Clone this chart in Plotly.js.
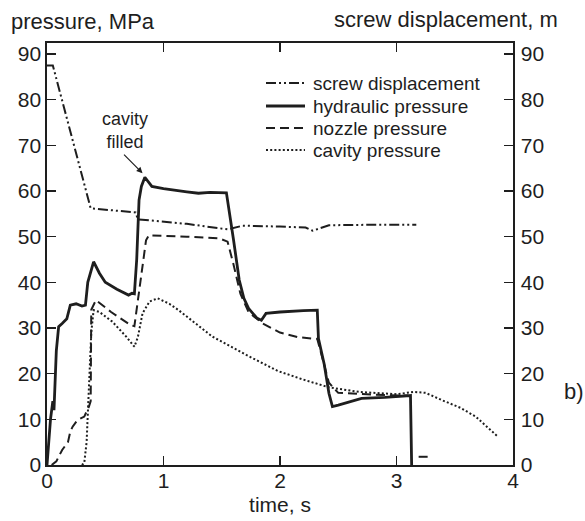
<!DOCTYPE html>
<html>
<head>
<meta charset="utf-8">
<script src="https://cdn.plot.ly/plotly-3.0.1.min.js"></script>
<style>html,body{margin:0;padding:0;background:#fff}#chart{width:585px;height:521px}</style>
</head>
<body>
<div id="chart"></div>
<script>
// ---- data ----
var seriesNames = ["screw displacement", "hydraulic pressure", "nozzle pressure", "cavity pressure"];

var screwT = [0.0, 0.05, 0.375, 0.76, 0.78, 0.88, 1.2, 1.55, 1.68, 2.0, 2.22, 2.28, 2.42, 2.8, 3.17];
var screwV = [87.5, 87.5, 56.2, 55.3, 53.8, 53.6, 52.8, 51.6, 52.4, 52.2, 52.0, 51.3, 52.5, 52.6, 52.6];

var hydT = [0.0, 0.02, 0.03, 0.05, 0.06, 0.08, 0.1, 0.13, 0.17, 0.2, 0.25, 0.3, 0.33, 0.35, 0.4, 0.45, 0.5, 0.6, 0.7, 0.73, 0.75, 0.77, 0.79, 0.81, 0.84, 0.9, 1.0, 1.2, 1.3, 1.4, 1.54, 1.6, 1.65, 1.69, 1.73, 1.8, 1.84, 1.88, 2.0, 2.2, 2.32, 2.33, 2.38, 2.42, 2.45, 2.5, 2.6, 2.7, 2.9, 3.12, 3.13];
var hydV = [0.0, 6, 10, 14, 12, 25, 30.3, 31, 32, 35, 35.3, 34.8, 35, 40, 44.5, 42, 40, 38.5, 37.2, 37.6, 37.5, 45, 58, 61, 63, 61, 60.5, 59.8, 59.5, 59.7, 59.6, 49.5, 40.5, 36.5, 34.3, 32.2, 31.7, 33.2, 33.5, 33.8, 33.9, 27.7, 22, 15.7, 12.8, 13.1, 13.8, 14.6, 14.8, 15.2, 0];

var nozT = [0.04, 0.08, 0.13, 0.18, 0.2, 0.22, 0.26, 0.32, 0.36, 0.375, 0.38, 0.42, 0.55, 0.72, 0.75, 0.8, 0.85, 0.875, 1.0, 1.2, 1.48, 1.55, 1.6, 1.66, 1.73, 1.85, 2.0, 2.15, 2.32, 2.36, 2.42, 2.5, 2.7, 2.9, 3.1, null, 3.19, 3.28];
var nozV = [0, 0.8, 3.3, 5, 7.3, 8.4, 9.8, 10.6, 12.8, 14, 34, 36.1, 33.5, 30.6, 30.4, 40, 49.2, 50.3, 50.2, 50, 49.6, 48.9, 44, 37.5, 33.5, 31, 29, 28, 27.6, 24, 18, 15.8, 15.5, 15.3, 15.2, null, 1.8, 1.8];

var cavT = [0.30, 0.32, 0.34, 0.36, 0.38, 0.40, 0.45, 0.56, 0.68, 0.75, 0.78, 0.82, 0.88, 0.95, 1.05, 1.13, 1.42, 1.71, 1.98, 2.2, 2.42, 2.68, 3.0, 3.15, 3.25, 3.39, 3.55, 3.68, 3.87];
var cavV = [0, 0.5, 5, 18, 29, 33.9, 33.5, 31.4, 28.1, 25.9, 28, 33.2, 35.8, 36.5, 35.3, 33.9, 28.1, 24.1, 20.6, 18.7, 17, 16, 15.5, 16, 15.8, 14.2, 12.5, 10.6, 6.2];

var xTicks = [0, 1, 2, 3, 4];
var yTicks = [0, 10, 20, 30, 40, 50, 60, 70, 80, 90];

// ---- layout helpers ----
var W = 585, H = 521, L = 47, R = 72, T = 43, B = 56;
var pw = W - L - R, ph = H - T - B;
function px(x) { return (x - L) / pw; }
function py(y) { return (H - B - y) / ph; }

var ink = "#1e1e1e";
var FONT = "Liberation Sans, Arial, Helvetica, sans-serif";
var dashes = ["10px,3px,2px,3px,2px,3px", "solid", "9px,5px", "2px,2.2px"];
var widths = [2, 2.8, 2, 2];

var traces = [
  {x: screwT, y: screwV, yaxis: "y2"},
  {x: hydT, y: hydV, yaxis: "y"},
  {x: nozT, y: nozV, yaxis: "y"},
  {x: cavT, y: cavV, yaxis: "y"}
].map(function (t, i) {
  return {
    type: "scatter", mode: "lines", name: seriesNames[i],
    x: t.x, y: t.y, yaxis: t.yaxis, connectgaps: false,
    line: {color: ink, width: widths[i], dash: dashes[i]},
    showlegend: false, hoverinfo: "skip"
  };
});

// manual legend (line samples + labels)
var legRows = [83, 106, 128, 150];
var shapes = [], annotations = [];
legRows.forEach(function (ry, i) {
  shapes.push({type: "line", xref: "paper", yref: "paper",
    x0: px(266), x1: px(305), y0: py(ry), y1: py(ry),
    line: {color: ink, width: widths[i], dash: dashes[i]}});
  annotations.push({xref: "paper", yref: "paper", x: px(311), y: py(ry),
    xanchor: "left", yanchor: "middle", showarrow: false,
    text: seriesNames[i], font: {family: FONT, size: 19, color: ink}});
});

// titles
annotations.push({xref: "paper", yref: "paper", x: px(9), y: py(21), xanchor: "left", yanchor: "middle",
  showarrow: false, text: "pressure, MPa", font: {family: FONT, size: 22, color: ink}});
annotations.push({xref: "paper", yref: "paper", x: px(560), y: py(20), xanchor: "right", yanchor: "middle",
  showarrow: false, text: "screw displacement, m", font: {family: FONT, size: 22, color: ink}});
annotations.push({xref: "paper", yref: "paper", x: px(562), y: py(391), xanchor: "left", yanchor: "middle",
  showarrow: false, text: "b)", font: {family: FONT, size: 22, color: ink}});
// "cavity filled" note with arrow
annotations.push({xref: "paper", yref: "paper", x: px(125), y: py(130), xanchor: "center", yanchor: "middle",
  showarrow: false, text: "cavity<br>filled", font: {family: FONT, size: 18, color: ink}});
annotations.push({xref: "x", yref: "y", x: 0.82, y: 63.9, ax: -20, ay: -20, text: "",
  showarrow: true, arrowhead: 2, arrowsize: 1, arrowwidth: 1.2, arrowcolor: ink, standoff: 0});

var axisCommon = {
  showgrid: false, zeroline: false, showline: true, linecolor: ink, linewidth: 1.6,
  ticks: "inside", ticklen: 9, tickwidth: 1.6, tickcolor: ink,
  tickfont: {family: FONT, size: 21, color: ink}
};

var layout = {
  width: W, height: H,
  margin: {l: L, r: R, t: T, b: B, pad: 0},
  paper_bgcolor: "#ffffff", plot_bgcolor: "#ffffff",
  showlegend: false,
  xaxis: Object.assign({}, axisCommon, {
    range: [0, 4], tickmode: "array", tickvals: xTicks, ticktext: xTicks.map(String),
    mirror: "ticks", ticklabelstandoff: -4,
    title: {text: "time, s", font: {family: FONT, size: 21, color: ink}, standoff: 6}
  }),
  yaxis: Object.assign({}, axisCommon, {
    range: [0, 92.4], tickmode: "array", tickvals: yTicks, ticktext: yTicks.map(String),
    ticklabelstandoff: 0
  }),
  yaxis2: Object.assign({}, axisCommon, {
    range: [0, 92.4], tickmode: "array", tickvals: yTicks, ticktext: yTicks.map(String),
    overlaying: "y", side: "right", ticklabelstandoff: 2
  }),
  shapes: shapes,
  annotations: annotations
};

Plotly.newPlot("chart", traces, layout, {staticPlot: true, displayModeBar: false});
</script>
</body>
</html>
